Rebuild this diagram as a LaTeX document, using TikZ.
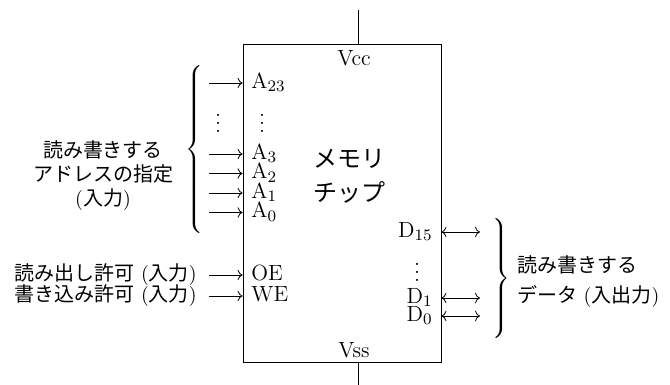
\documentclass[tikz,border=0pt]{standalone}
\usepackage{fontspec}
\newfontfamily\jp{Noto Sans CJK JP}
\usetikzlibrary{arrows.meta}
\tikzset{
  lbl/.style={inner sep=0pt, text height=7.5pt, text depth=2pt, font=\fontsize{11}{13}\selectfont},
  arin/.style={-{Computer Modern Rightarrow}, line width=0.4pt},
  arboth/.style={{Computer Modern Rightarrow}-{Computer Modern Rightarrow}, line width=0.4pt},
  bracenode/.style={inner sep=0pt},
  pwr/.style={font=\fontsize{11}{13}\selectfont},
}
\newcommand\lbrc[1]{$\nulldelimiterspace=0pt\delimitershortfall=0pt\delimiterfactor=1000\left\{\vcenter{\hbox{\rule{0pt}{#1}}}\right.$}
\newcommand\rbrc[1]{$\nulldelimiterspace=0pt\delimitershortfall=0pt\delimiterfactor=1000\left.\vcenter{\hbox{\rule{0pt}{#1}}}\right\}$}
\begin{document}
\begin{tikzpicture}[x=0.5pt, y=-0.5pt]
\useasboundingbox (0,0) rectangle (670,385);
% chip
\node[draw, line width=0.45pt, minimum width=99pt, minimum height=159pt, inner sep=0pt] (chip) at (342,203) {};
\coordinate (vcctop) at (358,10);
\coordinate (vssbot) at (358,385);
\draw (vcctop) -- (vcctop |- chip.north);
\draw (vssbot) -- (vssbot |- chip.south);
\node[pwr, anchor=base] (vcc) at (354,66) {Vcc};
\node[pwr, anchor=base] (vss) at (354,357) {Vss};
\node[anchor=west, align=left, font=\large\jp, inner sep=0pt] (mem) at (313,176.5) {メモリ\\[3pt]チップ};
% address inputs
\foreach \n/\t/\y in {a23/{A$_{23}$}/83, a3/{A$_3$}/154, a2/{A$_2$}/173.5, a1/{A$_1$}/193, a0/{A$_0$}/212.5, oe/OE/275, we/WE/296} {
  \node[lbl, anchor=west] (\n) at (251,\y) {\t};
  \coordinate (\n in) at (209,\y);
  \draw[arin] (\n in) -- (\n in -| chip.west);
}
\node[pwr, anchor=base] (ldots1) at (218,133) {$\vdots$};
\node[pwr, anchor=base] (ldots2) at (262,133) {$\vdots$};
\node[bracenode, anchor=west] (lbrace) at (185,150) {\lbrc{83pt}};
\node[align=center] (addrtxt) at (103,176) {{\jp 読み書きする}\\{\jp アドレスの指定}\\({\jp 入力})};
\node[lbl, font=\normalsize, anchor=east] (oetxt) at (197,275) {{\jp 読み出し許可} ({\jp 入力})};
\node[lbl, font=\normalsize, anchor=east] (wetxt) at (197,296) {{\jp 書き込み許可} ({\jp 入力})};
% data
\foreach \n/\t/\y in {d15/{D$_{15}$}/232, d1/{D$_1$}/298, d0/{D$_0$}/316} {
  \node[lbl, anchor=east] (\n) at (433,\y) {\t};
  \coordinate (\n out) at (480,\y);
  \draw[arboth] (\n out -| chip.east) -- (\n out);
}
\node[pwr, anchor=base] (rdots) at (417,281) {$\vdots$};
\node[bracenode, anchor=west] (rbrace) at (492,278.5) {\rbrc{55pt}};
\node[anchor=west, align=left] (datatxt) at (510,282) {{\jp 読み書きする}\\[3pt]{\jp データ} ({\jp 入出力})};
\end{tikzpicture}
\end{document}
